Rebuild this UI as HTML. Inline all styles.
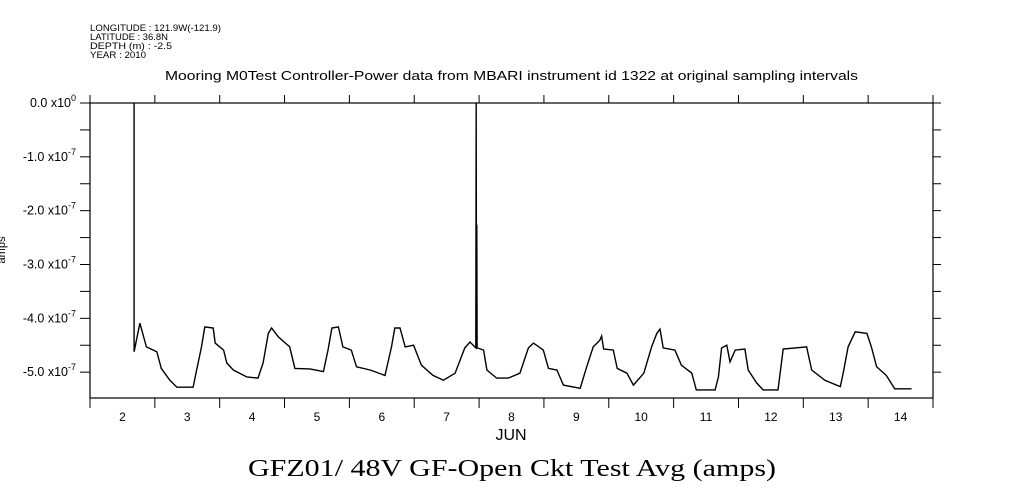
<!DOCTYPE html>
<html><head><meta charset="utf-8"><style>
body{margin:0;background:#fff;}
svg{display:block;font-family:"Liberation Sans",sans-serif;}
</style></head><body>
<svg id="chart" width="1009" height="504" viewBox="0 0 1009 504">
<g font-size="9" fill="#000">
<text x="90" y="31" textLength="131" lengthAdjust="spacingAndGlyphs">LONGITUDE : 121.9W(-121.9)</text>
<text x="90" y="40" textLength="78" lengthAdjust="spacingAndGlyphs">LATITUDE : 36.8N</text>
<text x="90" y="49" textLength="82" lengthAdjust="spacingAndGlyphs">DEPTH (m) : -2.5</text>
<text x="90" y="58" textLength="56" lengthAdjust="spacingAndGlyphs">YEAR : 2010</text>
</g>
<text x="165" y="80" textLength="693" lengthAdjust="spacingAndGlyphs" font-size="13">Mooring M0Test Controller-Power data from MBARI instrument id 1322 at original sampling intervals</text>
<rect x="90" y="103" width="843" height="295" fill="none" stroke="#000" stroke-width="1.2"/>
<g id="axes"></g>
<path id="series" fill="none" stroke="#000" stroke-width="1.4"/>
<text x="511" y="440" text-anchor="middle" font-size="16">JUN</text>
<text x="5" y="250" text-anchor="middle" font-size="11" transform="rotate(-90 5 250)">amps</text>
<text x="248" y="476" textLength="528" lengthAdjust="spacingAndGlyphs" font-size="24" font-family="Liberation Serif, serif">GFZ01/ 48V GF-Open Ckt Test Avg (amps)</text>
</svg>
<script>
const dayLabels=["2","3","4","5","6","7","8","9","10","11","12","13","14"];
const yTickValues=[0,-1,-2,-3,-4,-5];
const yTickLabels=["0.0 x10","-1.0 x10","-2.0 x10","-3.0 x10","-4.0 x10","-5.0 x10"];
const yTickExps=["0","-7","-7","-7","-7","-7"];
const times=[2.68,2.68,2.77,2.87,3.03,3.10,3.23,3.34,3.59,3.64,3.72,3.77,3.90,3.93,4.06,4.11,4.21,4.42,4.59,4.67,4.75,4.80,4.90,5.08,5.16,5.39,5.60,5.67,5.73,5.83,5.90,6.03,6.11,6.32,6.55,6.65,6.70,6.78,6.86,6.99,7.11,7.29,7.45,7.63,7.78,7.86,7.95,7.955,7.96,7.965,7.97,7.975,8.07,8.12,8.27,8.45,8.63,8.76,8.84,8.99,9.07,9.20,9.30,9.56,9.66,9.76,9.86,9.89,9.92,10.07,10.13,10.28,10.38,10.54,10.66,10.74,10.79,10.84,11.02,11.12,11.28,11.35,11.64,11.69,11.74,11.82,11.87,11.95,12.10,12.15,12.28,12.38,12.61,12.69,13.05,13.13,13.33,13.57,13.62,13.69,13.80,13.98,14.05,14.13,14.28,14.41,14.67];
const values=[0,-4.62,-4.09,-4.53,-4.62,-4.93,-5.15,-5.28,-5.28,-4.99,-4.53,-4.16,-4.18,-4.46,-4.59,-4.83,-4.96,-5.09,-5.11,-4.83,-4.28,-4.18,-4.34,-4.53,-4.93,-4.94,-4.99,-4.59,-4.18,-4.16,-4.53,-4.59,-4.90,-4.96,-5.06,-4.53,-4.18,-4.18,-4.53,-4.50,-4.87,-5.06,-5.15,-5.02,-4.55,-4.44,-4.55,0,-4.55,-2.26,-4.55,-4.55,-4.59,-4.96,-5.11,-5.11,-5.02,-4.55,-4.46,-4.59,-4.93,-4.96,-5.24,-5.30,-4.90,-4.53,-4.41,-4.33,-4.57,-4.59,-4.93,-5.02,-5.24,-5.02,-4.53,-4.28,-4.20,-4.55,-4.59,-4.87,-5.02,-5.33,-5.33,-5.09,-4.55,-4.50,-4.81,-4.59,-4.57,-4.96,-5.20,-5.33,-5.33,-4.57,-4.53,-4.96,-5.15,-5.27,-4.99,-4.53,-4.25,-4.28,-4.53,-4.90,-5.06,-5.31,-5.31];
const X0=90,X1=933,Y0=103,Y1=398,D0=2,D1=15,V0=0,V1=-5.48;
const xs=d=>X0+(d-D0)/(D1-D0)*(X1-X0);
const ys=v=>Y0+(v-V0)/(V1-V0)*(Y1-Y0);
const NS="http://www.w3.org/2000/svg";
const axes=document.getElementById('axes');
function mk(tag,attrs){const e=document.createElementNS(NS,tag);for(const k in attrs)e.setAttribute(k,attrs[k]);axes.appendChild(e);return e;}
for(let i=0;i<=dayLabels.length;i++){
  const x=xs(D0+i);
  const b=mk('line',{x1:x,x2:x,y1:Y1,y2:Y1+10,stroke:'#000'});
  
  
  const t=mk('line',{x1:x,x2:x,y1:Y0,y2:Y0-8,stroke:'#000'});
  
  
}
dayLabels.forEach((l,i)=>{
  const t=mk('text',{x:xs(D0+i+0.5),y:Y1+23,'text-anchor':'middle','font-size':12});
  t.textContent=l;
  
  
});
for(let v=0;v>=-5.4;v-=0.5){
  const y=ys(v);
  const l=mk('line',{x1:X0-10,x2:X0,y1:y,y2:y,stroke:'#000'});
  
  
  const r=mk('line',{x1:X1,x2:X1+8,y1:y,y2:y,stroke:'#000'});
  
  
}
yTickValues.forEach((v,i)=>{
  const t=mk('text',{x:76,y:ys(v)+4,'text-anchor':'end','font-size':12.5});
  t.textContent=yTickLabels[i];
  const s=document.createElementNS(NS,'tspan');s.setAttribute('dy','-6');s.setAttribute('font-size','9');s.textContent=yTickExps[i];t.appendChild(s);
  
  
});
document.getElementById('series').setAttribute('d',times.map((d,i)=>(i?'L':'M')+xs(d).toFixed(1)+' '+ys(values[i]).toFixed(1)).join(' '));
</script>
</body></html>
